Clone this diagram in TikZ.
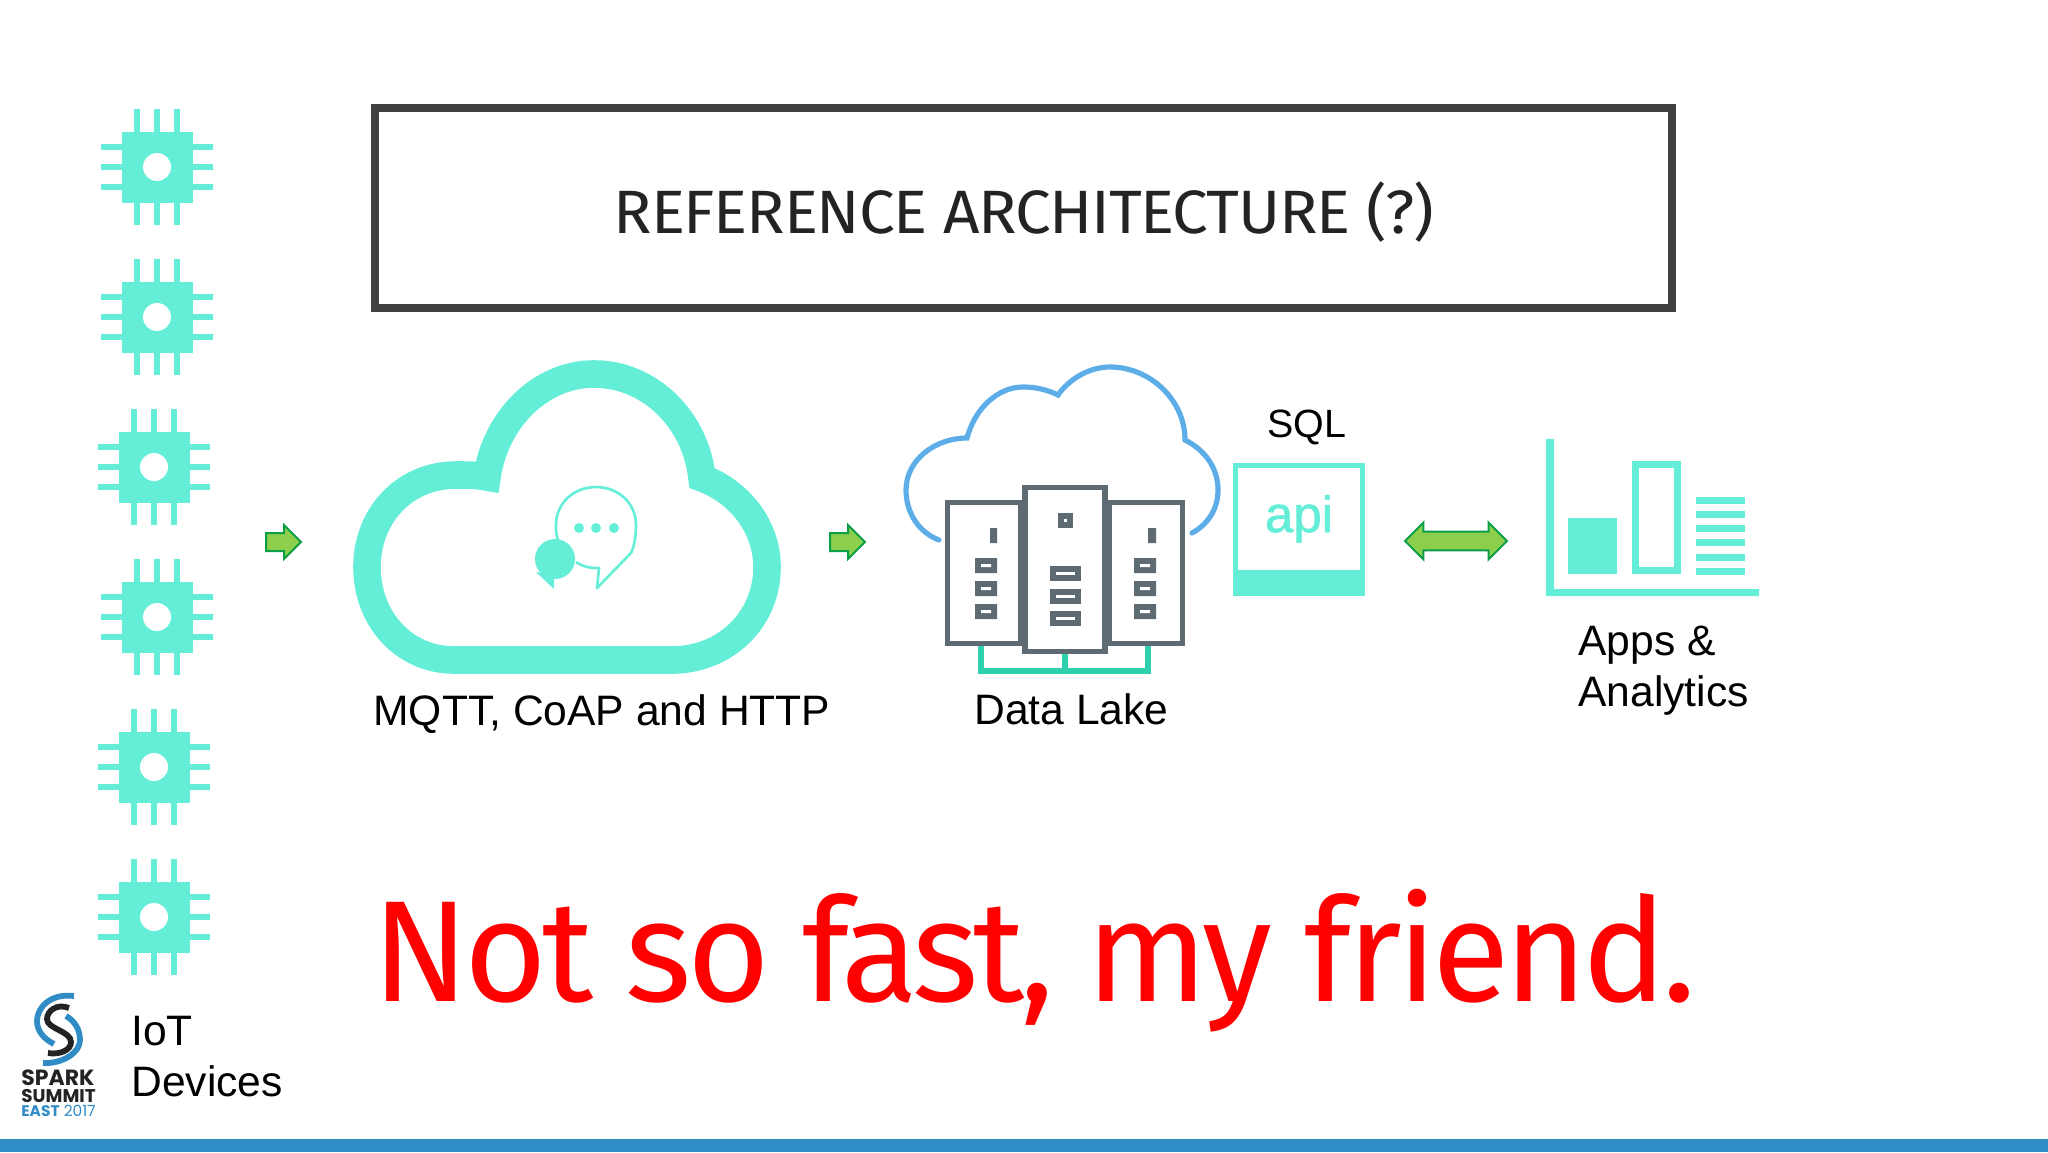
\documentclass[tikz,border=0pt]{standalone}
\usepackage{fontspec}
\setmainfont{Liberation Sans}
\newfontfamily\headfont[FakeStretch=1.04,LetterSpace=-2]{Fira Sans}
\newfontfamily\redfont[FakeStretch=0.985,LetterSpace=-3.5]{Fira Sans}
\newfontfamily\apifont[FakeBold=1.2]{Liberation Sans}
\newfontfamily\logofont{Poppins}
\usetikzlibrary{shapes.arrows}
\definecolor{ss@teal}{RGB}{100,238,216}
\definecolor{ss@bus}{RGB}{46,208,173}
\definecolor{ss@gray}{RGB}{95,107,115}
\definecolor{ss@sky}{RGB}{93,173,232}
\definecolor{ss@blue}{RGB}{47,140,197}
\definecolor{ss@dark}{RGB}{64,64,64}
\definecolor{ss@ink}{RGB}{35,35,38}
\definecolor{ss@lime}{RGB}{140,207,77}
\definecolor{ss@green}{RGB}{10,158,70}

\begin{document}
\begin{tikzpicture}[
  x=0.5pt,y=-0.5pt,
  lbl/.style={font=\fontsize{21.3}{25.5}\selectfont,inner sep=0pt,anchor=base west,align=left},
  logotext/.style={inner sep=0pt,anchor=base west,text=ss@ink},
  server/.style={rectangle,draw=ss@gray,fill=white,line width=2.7pt,minimum width=36.5pt,minimum height=70.5pt,inner sep=0pt},
  busline/.style={ss@bus,line width=2.8pt},
  skyline/.style={ss@sky,line width=2.6pt,line cap=round},
  logoarc/.style={line width=2.9pt},
  blockone/.style={single arrow,draw=ss@green,fill=ss@lime,line width=1pt,minimum height=17.5pt,
    single arrow head extend=4pt,inner xsep=0pt,inner ysep=4pt,outer sep=0pt},
  blocktwo/.style={double arrow,draw=ss@green,fill=ss@lime,line width=1pt,minimum height=51pt,
    double arrow head extend=4.5pt,inner xsep=0pt,inner ysep=4.2pt,outer sep=0pt},
  chip/.pic={
    \foreach \p in {-20,0,20} {
      \draw[ss@teal,line width=2.8pt] (\p,-58) -- (\p,58);
      \draw[ss@teal,line width=2.6pt] (-56,\p) -- (56,\p);
    }
    \fill[ss@teal] (-35.5,-35.5) rectangle (35.5,35.5);
    \fill[white] (0,0) circle (7pt);
  }
]
\useasboundingbox (0,0) rectangle (2048,1152);

% chips
\pic at (157,167) {chip};
\pic at (157,317) {chip};
\pic at (154,467) {chip};
\pic at (157,617) {chip};
\pic at (154,767) {chip};
\pic at (154,917) {chip};

% title
\node[rectangle,draw=ss@dark,line width=4pt,minimum width=648.5pt,minimum height=100pt,inner sep=0pt] (titlebox) at (1023.5,208) {};
\node[inner sep=0pt,anchor=base,text=ss@ink,font=\headfont\fontsize{30.6}{36}\selectfont] (titletext) at (1024,233) {REFERENCE ARCHITECTURE (?)};

% broker cloud
\draw[ss@teal,line width=13.8pt,line join=miter]
  (454,660) -- (672,660) .. controls (725,660) and (767,620) .. (767,567)
  .. controls (767,527) and (740,492) .. (702,478)
  .. controls (696,420) and (650,374) .. (594,374)
  .. controls (540,374) and (495,420) .. (487,477)
  .. controls (477,475) and (466,475) .. (456,475)
  .. controls (405,475) and (367,515) .. (367,567)
  .. controls (367,620) and (405,660) .. (454,660) -- cycle;
\draw[ss@teal,line width=1.3pt,line join=round]
  (576,562) .. controls (583,567) and (590,568) .. (599,568) -- (597,588) -- (631,553)
  .. controls (634,547) and (636,537) .. (636,525)
  .. controls (636,503) and (618,487) .. (596,487)
  .. controls (574,487) and (556,503) .. (556,525)
  .. controls (556,530) and (556,535) .. (558,540);
\fill[ss@teal] (555,559) circle (10pt);
\fill[ss@teal] (536,572) -- (554,589) -- (554,575) -- cycle;
\fill[ss@teal] (579,528) circle (2.5pt) (596,528) circle (2.5pt) (614,528) circle (2.5pt);

% data lake
\draw[skyline]
  (939,540) .. controls (918,532) and (906,512) .. (906,490)
  .. controls (906,460) and (935,438) .. (967,438)
  .. controls (975,408) and (998,387) .. (1023,387)
  .. controls (1036,387) and (1048,390) .. (1058,395)
  .. controls (1070,378) and (1090,367) .. (1110,367)
  .. controls (1150,367) and (1185,400) .. (1185,440)
  .. controls (1205,450) and (1218,468) .. (1218,490)
  .. controls (1218,510) and (1207,525) .. (1192,533);
\node[server] (srvleft) at (984,573) {};
\node[server] (srvright) at (1146,573) {};
\node[server,minimum width=40pt,minimum height=82pt] (srvmid) at (1065,569.5) {};
\draw[busline] ([xshift=-1.5pt]srvleft.south) -- ++(0,25) -| ([xshift=1pt]srvright.south);
\draw[busline] (srvmid.south) -- ++(0,17);
\fill[ss@gray] (990,528) rectangle (997,543) (1148,528) rectangle (1156,543);
\fill[ss@gray] (1058,513) rectangle (1073,528);
\fill[white] (1064,519) rectangle (1067,522);
\foreach \y in {558,581,604} {
  \fill[ss@gray] (975,\y) rectangle (997,\y+15) (1134,\y) rectangle (1156,\y+15);
  \fill[white] (981,\y+6) rectangle (991,\y+9) (1140,\y+6) rectangle (1150,\y+9);
}
\foreach \y in {566,589,611} {
  \fill[ss@gray] (1050,\y) rectangle (1081,\y+15);
  \fill[white] (1056,\y+6) rectangle (1075,\y+9);
}

% api
\node[rectangle,draw=ss@teal,line width=2.4pt,minimum width=63.5pt,minimum height=64pt,inner sep=0pt] (apibox) at (1299,529.5) {};
\fill[ss@teal] (apibox.south west) rectangle ([yshift=13pt]apibox.south east);
\node[inner sep=0pt,anchor=base,text=ss@teal,font=\apifont\fontsize{25.5}{30}\selectfont] (apitext) at (1299,532) {api};

% chart
\fill[ss@teal] (1546,439) rectangle (1554,596) (1546,589) rectangle (1759,596);
\fill[ss@teal] (1568,518) rectangle (1617,574);
\draw[ss@teal,line width=3.3pt] (1635.5,464.5) rectangle (1677.5,570.5);
\foreach \y in {497,511,525,539,554,568} {
  \fill[ss@teal] (1696,\y) rectangle (1745,\y+6.5);
}

% block arrows
\node[blockone] (arrowin) at (279,542) {};
\node[blockone] (arrowlake) at (843,542) {};
\node[blocktwo] (arrowapi) at (1456,541) {};

% labels
\node[lbl] (mqtt) at (373,725) {MQTT, CoAP and HTTP};
\node[lbl] (lake) at (974,724) {Data Lake};
\node[lbl,font=\fontsize{19.7}{25.5}\selectfont] (sql) at (1267,437) {SQL};
\node[lbl] (apps) at (1578,706) {Apps \&\\Analytics};
\node[lbl] (iot) at (131,1096) {IoT\\Devices};

% red line
\node[inner sep=0pt,anchor=base west,text=red,font=\redfont\fontsize{72}{80}\selectfont] (friend) at (372,1001) {Not so fast, my friend.};

% logo
\draw[ss@blue,logoarc] (74,996) .. controls (50,993) and (37,1008) .. (37,1021) .. controls (37,1031) and (44,1039) .. (54,1044);
\draw[ss@blue,logoarc] (66,1016) .. controls (75,1021) and (80,1030) .. (80,1040) .. controls (80,1053) and (62,1064) .. (43,1063);
\draw[ss@ink,logoarc] (69,1008) .. controls (57,1003) and (47,1011) .. (47,1019) .. controls (47,1029) and (71,1031) .. (71,1042) .. controls (71,1050) and (60,1055) .. (48,1053);
\node[logotext,font=\logofont\bfseries\fontsize{11}{12}\selectfont] (spark) at (21,1085) {SPARK};
\node[logotext,font=\logofont\bfseries\fontsize{9.2}{10}\selectfont] (summit) at (21,1102) {SUMMIT};
\node[logotext,text=ss@blue,font=\logofont\fontsize{7.7}{10}\selectfont] (east) at (21,1116) {\textbf{EAST} 2017};

% bottom rule
\fill[ss@blue] (0,1139) rectangle (2048,1152);
\end{tikzpicture}
\end{document}
